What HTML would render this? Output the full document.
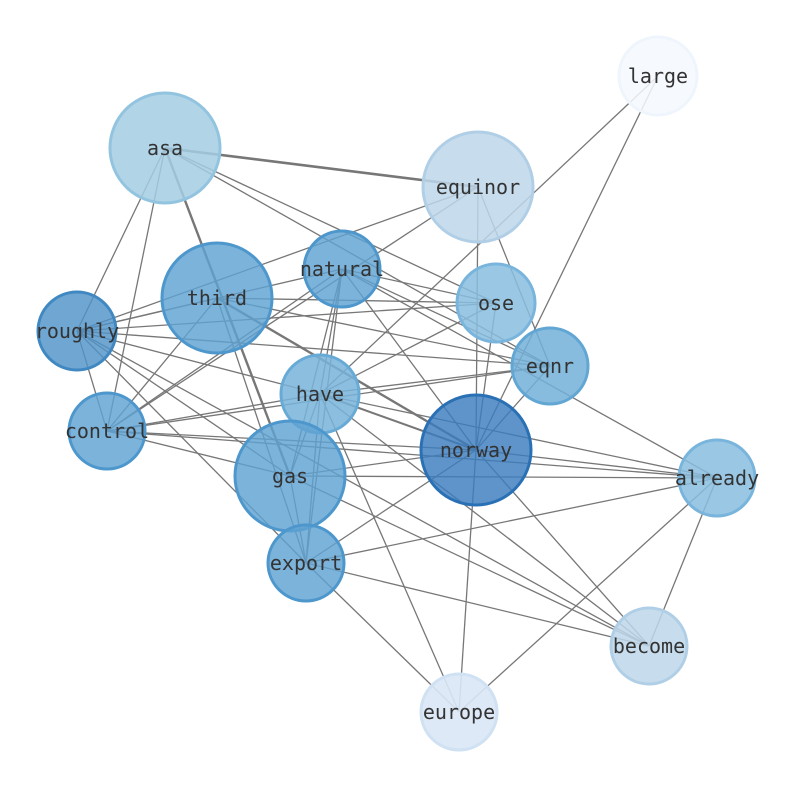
<!DOCTYPE html>
<html><head><meta charset="utf-8"><style>
html,body{margin:0;padding:0;background:#fff;width:794px;height:790px;overflow:hidden}
svg{display:block}
text{font-family:"DejaVu Sans Mono","Liberation Mono",monospace;font-size:20px;fill:#333;text-anchor:middle;dominant-baseline:central}
</style></head><body>
<svg width="794" height="790" viewBox="0 0 794 790" xmlns="http://www.w3.org/2000/svg">
<g stroke="#777" stroke-width="1.3" fill="none">
<!-- asa -->
<line x1="165" y1="148" x2="478" y2="187" stroke-width="2.6"/>
<line x1="165" y1="148" x2="290" y2="476" stroke-width="2.4"/>
<line x1="165" y1="148" x2="77" y2="331"/>
<line x1="165" y1="148" x2="107" y2="431"/>
<line x1="165" y1="148" x2="496" y2="303"/>
<line x1="165" y1="148" x2="550" y2="366"/>
<!-- large -->
<line x1="658" y1="76" x2="320" y2="394"/>
<line x1="658" y1="76" x2="476" y2="450"/>
<!-- equinor -->
<line x1="478" y1="187" x2="77" y2="331"/>
<line x1="478" y1="187" x2="107" y2="431"/>
<line x1="478" y1="187" x2="476" y2="450"/>
<line x1="478" y1="187" x2="550" y2="366"/>
<!-- natural -->
<line x1="342" y1="269" x2="77" y2="331"/>
<line x1="342" y1="269" x2="107" y2="431"/>
<line x1="342" y1="269" x2="290" y2="476"/>
<line x1="342" y1="269" x2="306" y2="563"/>
<line x1="342" y1="269" x2="320" y2="394"/>
<line x1="342" y1="269" x2="476" y2="450"/>
<line x1="342" y1="269" x2="550" y2="366"/>
<line x1="342" y1="269" x2="717" y2="478"/>
<line x1="342" y1="269" x2="496" y2="303"/>
<!-- third -->
<line x1="217" y1="298" x2="77" y2="331"/>
<line x1="217" y1="298" x2="496" y2="303"/>
<line x1="217" y1="298" x2="550" y2="366"/>
<line x1="217" y1="298" x2="476" y2="450" stroke-width="2.4"/>
<line x1="217" y1="298" x2="306" y2="563"/>
<line x1="217" y1="298" x2="107" y2="431"/>
<!-- roughly -->
<line x1="77" y1="331" x2="496" y2="303"/>
<line x1="77" y1="331" x2="550" y2="366"/>
<line x1="77" y1="331" x2="320" y2="394"/>
<line x1="77" y1="331" x2="290" y2="476"/>
<line x1="77" y1="331" x2="306" y2="563"/>
<line x1="77" y1="331" x2="649" y2="646"/>
<line x1="77" y1="331" x2="107" y2="431"/>
<!-- have -->
<line x1="320" y1="394" x2="476" y2="450" stroke-width="2"/>
<line x1="320" y1="394" x2="550" y2="366"/>
<line x1="320" y1="394" x2="496" y2="303"/>
<line x1="320" y1="394" x2="717" y2="478"/>
<line x1="320" y1="394" x2="306" y2="563"/>
<line x1="320" y1="394" x2="459" y2="712"/>
<line x1="320" y1="394" x2="649" y2="646"/>
<line x1="320" y1="394" x2="290" y2="476"/>
<line x1="320" y1="394" x2="107" y2="431"/>
<!-- control -->
<line x1="107" y1="431" x2="476" y2="450"/>
<line x1="107" y1="431" x2="290" y2="476"/>
<line x1="107" y1="431" x2="717" y2="478"/>
<!-- gas -->
<line x1="290" y1="476" x2="476" y2="450"/>
<line x1="290" y1="476" x2="717" y2="478"/>
<line x1="290" y1="476" x2="306" y2="563"/>
<line x1="290" y1="476" x2="649" y2="646"/>
<!-- norway -->
<line x1="476" y1="450" x2="717" y2="478"/>
<line x1="476" y1="450" x2="306" y2="563"/>
<line x1="476" y1="450" x2="459" y2="712"/>
<line x1="476" y1="450" x2="649" y2="646"/>
<line x1="476" y1="450" x2="550" y2="366"/>
<line x1="476" y1="450" x2="496" y2="303"/>
<!-- already -->
<line x1="717" y1="478" x2="306" y2="563"/>
<line x1="717" y1="478" x2="459" y2="712"/>
<line x1="717" y1="478" x2="649" y2="646"/>
<!-- export -->
<line x1="306" y1="563" x2="459" y2="712"/>
<line x1="306" y1="563" x2="649" y2="646"/>
<line x1="550" y1="366" x2="107" y2="431"/>
</g>
<g stroke-width="3">
<circle cx="658" cy="76" r="39" fill="#f4f9fe" fill-opacity="0.85" stroke="#eef5fc"/>
<circle cx="165" cy="148" r="55" fill="#a3cde3" fill-opacity="0.85" stroke="#93c4df"/>
<circle cx="478" cy="187" r="55" fill="#bdd7ea" fill-opacity="0.85" stroke="#b0cfe6"/>
<circle cx="217" cy="298" r="55" fill="#5fa2d2" fill-opacity="0.82" stroke="#4d97cc"/>
<circle cx="342" cy="269" r="38" fill="#5fa2d2" fill-opacity="0.82" stroke="#4d97cc"/>
<circle cx="496" cy="303" r="39" fill="#88bedf" fill-opacity="0.85" stroke="#78b4db"/>
<circle cx="77" cy="331" r="39" fill="#4f93c8" fill-opacity="0.82" stroke="#3f88c2"/>
<circle cx="550" cy="366" r="38" fill="#72b0d8" fill-opacity="0.85" stroke="#62a6d4"/>
<circle cx="320" cy="394" r="39" fill="#78b3da" fill-opacity="0.85" stroke="#68aad6"/>
<circle cx="107" cy="431" r="38" fill="#5fa2d2" fill-opacity="0.82" stroke="#4d97cc"/>
<circle cx="476" cy="450" r="55" fill="#3a7cbd" fill-opacity="0.82" stroke="#2a70b5"/>
<circle cx="290" cy="476" r="55" fill="#5fa2d2" fill-opacity="0.82" stroke="#4d97cc"/>
<circle cx="717" cy="478" r="38" fill="#88bedf" fill-opacity="0.85" stroke="#78b4db"/>
<circle cx="306" cy="563" r="38" fill="#5fa2d2" fill-opacity="0.82" stroke="#4d97cc"/>
<circle cx="649" cy="646" r="38" fill="#bdd7ea" fill-opacity="0.85" stroke="#b0cfe6"/>
<circle cx="459" cy="712" r="38" fill="#d9e7f5" fill-opacity="0.9" stroke="#cfe1f2"/>
</g>
<text x="658" y="76">large</text>
<text x="165" y="148">asa</text>
<text x="478" y="187">equinor</text>
<text x="217" y="298">third</text>
<text x="342" y="269">natural</text>
<text x="496" y="303">ose</text>
<text x="77" y="331">roughly</text>
<text x="550" y="366">eqnr</text>
<text x="320" y="394">have</text>
<text x="107" y="431">control</text>
<text x="476" y="450">norway</text>
<text x="290" y="476">gas</text>
<text x="717" y="478">already</text>
<text x="306" y="563">export</text>
<text x="649" y="646">become</text>
<text x="459" y="712">europe</text>
</svg>
</body></html>
